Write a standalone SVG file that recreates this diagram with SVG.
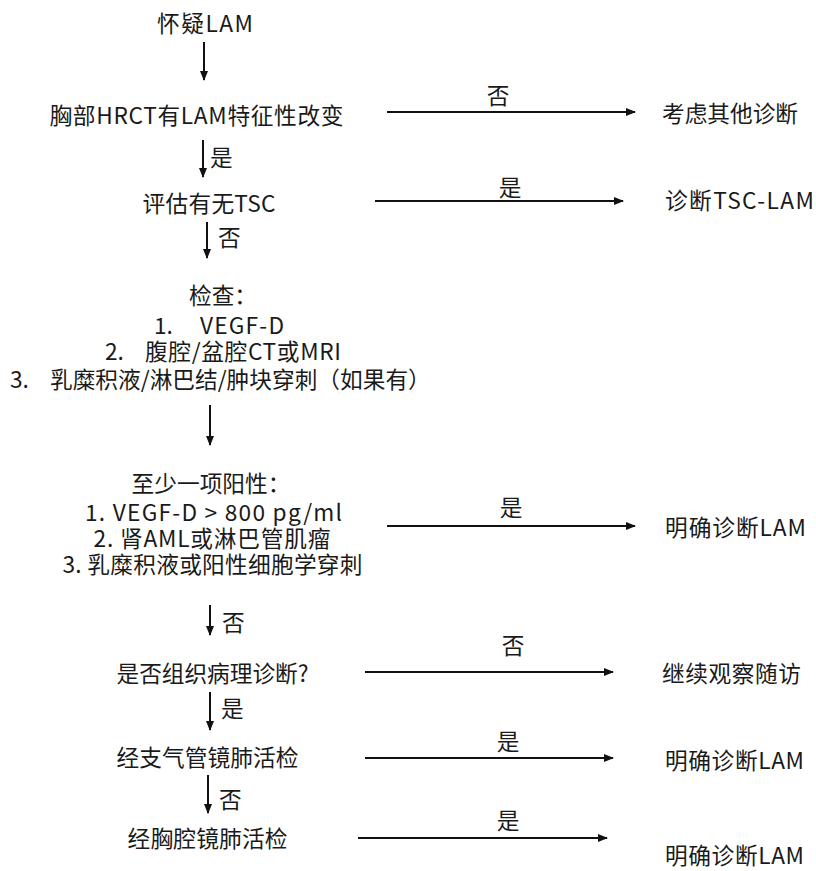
<svg xmlns="http://www.w3.org/2000/svg" width="816" height="871" viewBox="0 0 816 871">
<defs>
<style>
text{font-family:"Microsoft YaHei","Noto Sans CJK SC","Noto Sans",sans-serif;font-size:22.7px;fill:#1a1a1a}
.m{text-anchor:middle}
.c line{stroke:#111;stroke-width:2;marker-end:url(#ah)}
</style>
<marker id="ah" markerUnits="userSpaceOnUse" markerWidth="10" markerHeight="8" refX="9" refY="4" orient="auto">
<path d="M0,0 L10,4 L0,8 Z" fill="#111"/>
</marker>
</defs>
<rect width="816" height="871" fill="#fff"/>
<g id="n1"><text class="m" x="205" y="32" textLength="96">怀疑LAM</text></g>
<g id="n2"><text class="m" x="196.5" y="124" textLength="294">胸部HRCT有LAM特征性改变</text></g>
<g id="n3"><text class="m" x="209" y="212" textLength="133">评估有无TSC</text></g>
<g id="n4">
<text class="m" x="223" y="304">检查：</text>
<text x="154" y="334">1.<tspan x="200" textLength="84">VEGF-D</tspan></text>
<text x="105" y="360">2.<tspan x="145" textLength="196">腹腔/盆腔CT或MRI</tspan></text>
<text x="10" y="388">3.<tspan x="50">乳糜积液/淋巴结/肿块穿刺（如果有）</tspan></text>
</g>
<g id="n5">
<text class="m" x="211" y="492">至少一项阳性：</text>
<text class="m" x="213.5" y="521" textLength="257">1. VEGF-D &gt; 800 pg/ml</text>
<text class="m" x="212" y="547" textLength="237">2. 肾AML或淋巴管肌瘤</text>
<text class="m" x="212.5" y="573" textLength="300">3. 乳糜积液或阳性细胞学穿刺</text>
</g>
<g id="n6"><text class="m" x="212.5" y="682" textLength="192">是否组织病理诊断?</text></g>
<g id="n7"><text class="m" x="207.5" y="766" textLength="182">经支气管镜肺活检</text></g>
<g id="n8"><text class="m" x="207.5" y="847" textLength="160">经胸腔镜肺活检</text></g>
<g id="r1"><text x="662" y="122" textLength="136">考虑其他诊断</text></g>
<g id="r2"><text x="665" y="209" textLength="149">诊断TSC-LAM</text></g>
<g id="r3"><text x="665" y="536" textLength="141">明确诊断LAM</text></g>
<g id="r4"><text x="662" y="682" textLength="139">继续观察随访</text></g>
<g id="r5"><text x="665" y="769" textLength="139">明确诊断LAM</text></g>
<g id="r6"><text x="665" y="864" textLength="139">明确诊断LAM</text></g>
<g id="connectors" class="c">
<line x1="204" y1="42" x2="204" y2="80"/>
<line x1="203" y1="140" x2="203" y2="177"/>
<line x1="207" y1="222" x2="207" y2="258"/>
<line x1="210" y1="405" x2="210" y2="445"/>
<line x1="210" y1="605" x2="210" y2="635"/>
<line x1="210" y1="692" x2="210" y2="730"/>
<line x1="208" y1="775" x2="208" y2="813"/>
<line x1="387" y1="112" x2="635" y2="112"/>
<line x1="375" y1="201" x2="623" y2="201"/>
<line x1="387" y1="526" x2="635" y2="526"/>
<line x1="365" y1="672" x2="613" y2="672"/>
<line x1="365" y1="758" x2="613" y2="758"/>
<line x1="358" y1="838" x2="607" y2="838"/>
</g>
<g id="labels">
<text x="210" y="166">是</text>
<text x="218" y="246">否</text>
<text x="222" y="631">否</text>
<text x="221" y="717">是</text>
<text x="219" y="808">否</text>
<text class="m" x="498" y="104">否</text>
<text class="m" x="510" y="196">是</text>
<text class="m" x="511" y="516">是</text>
<text class="m" x="513" y="654">否</text>
<text class="m" x="508" y="750">是</text>
<text class="m" x="508" y="829">是</text>
</g>
</svg>
